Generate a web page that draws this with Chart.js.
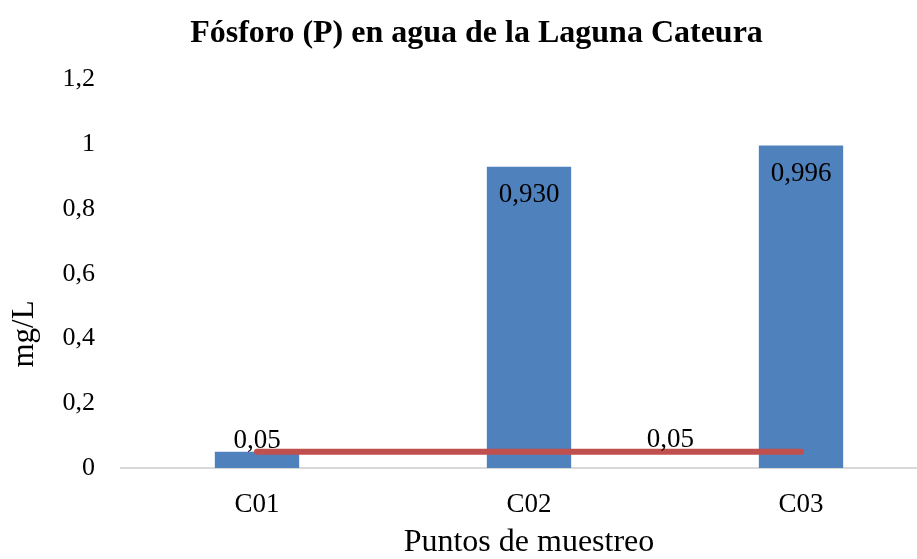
<!DOCTYPE html>
<html lang="es">
<head>
<meta charset="UTF-8">
<title>Fósforo (P) en agua de la Laguna Cateura</title>
<script src="https://cdn.jsdelivr.net/npm/chart.js@4.4.0/dist/chart.umd.min.js"></script>
<style>
  html, body { margin: 0; padding: 0; background: #fff; overflow: hidden; }
  #wrap { width: 952px; height: 559px; }
</style>
</head>
<body>
<div id="wrap"><canvas id="myChart" width="952" height="559"></canvas></div>
<script>
  // datos del grafico
  const puntos = ['C01', 'C02', 'C03'];
  const fosforo = [0.05, 0.930, 0.996];
  const limite = [0.05, 0.05, 0.05];
  const etiquetasFosforo = ['0,05', '0,930', '0,996'];
  const etiquetaLimite = '0,05';
  const yTicks = ['0', '0,2', '0,4', '0,6', '0,8', '1', '1,2'];

  const serif = '"Liberation Serif", "Times New Roman", serif';

  // etiquetas de datos y titulo del eje Y
  const etiquetas = {
    id: 'etiquetas',
    afterDatasetsDraw(chart) {
      const ctx = chart.ctx;
      const barras = chart.getDatasetMeta(1).data;
      ctx.save();
      ctx.font = '27px ' + serif;
      ctx.fillStyle = '#000';
      ctx.textAlign = 'center';
      ctx.textBaseline = 'middle';
      barras.forEach((b, i) => {
        // barra pequena: etiqueta encima, si no dentro del extremo
        const y = (b.base - b.y) < 40 ? b.y - 11 : b.y + 28;
        ctx.fillText(etiquetasFosforo[i], b.x, y);
      });
      const lx = chart.scales.x.getPixelForValue(1.52);
      const ly = chart.scales.y.getPixelForValue(limite[1]);
      ctx.fillText(etiquetaLimite, lx, ly - 12);

      // titulo eje Y
      ctx.font = '31px ' + serif;
      ctx.translate(25, chart.scales.y.getPixelForValue(0.414));
      ctx.rotate(-Math.PI / 2);
      ctx.fillText('mg/L', 0, 0);
      ctx.restore();
    }
  };

  const ctx = document.getElementById('myChart').getContext('2d');
  const myChart = new Chart(ctx, {
    data: {
      labels: puntos,
      datasets: [{
        type: 'line',
        data: limite,
        borderColor: '#C0504D',
        borderWidth: 6,
        borderCapStyle: 'round',
        pointRadius: 0,
        order: 0
      }, {
        type: 'bar',
        data: fosforo,
        backgroundColor: '#4F81BD',
        categoryPercentage: 1,
        barPercentage: 0.31,
        order: 1
      }]
    },
    options: {
      responsive: false,
      animation: false,
      layout: { padding: { left: 16, right: 15, top: 0, bottom: 0 } },
      plugins: {
        legend: { display: false },
        tooltip: { enabled: false },
        title: {
          display: true,
          text: 'Fósforo (P) en agua de la Laguna Cateura',
          color: '#000',
          font: { family: serif, size: 32, weight: 'bold', lineHeight: 1.2 },
          padding: { top: 15, bottom: 26 }
        }
      },
      scales: {
        x: {
          grid: { display: false, drawTicks: false },
          border: { color: '#D9D9D9', width: 2 },
          ticks: { color: '#000', font: { family: serif, size: 27 }, padding: 21 },
          title: {
            display: true,
            text: 'Puntos de muestreo',
            color: '#000',
            font: { family: serif, size: 32, lineHeight: 1 },
            padding: { top: 0, bottom: 0 }
          },
          afterFit: s => { s.height = 91; }
        },
        y: {
          min: 0,
          max: 1.2,
          grid: { display: false, drawTicks: false },
          border: { display: false },
          ticks: {
            stepSize: 0.2,
            color: '#000',
            padding: 26,
            font: { family: serif, size: 26 },
            callback: (v, i) => yTicks[i]
          },
          afterFit: s => { s.width = 105; }
        }
      }
    },
    plugins: [etiquetas]
  });
</script>
</body>
</html>
